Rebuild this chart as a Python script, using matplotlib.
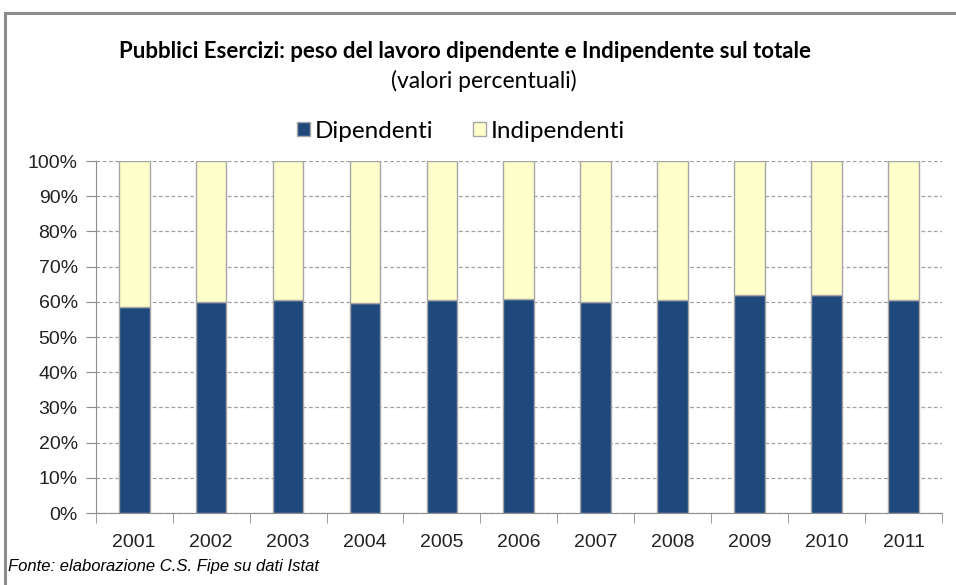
import numpy as np
import matplotlib.pyplot as plt
from matplotlib.patches import Rectangle, Patch
from matplotlib.ticker import PercentFormatter

anni = ["2001", "2002", "2003", "2004", "2005", "2006", "2007", "2008", "2009", "2010", "2011"]
dipendenti = [58.5, 60.0, 60.4, 59.7, 60.5, 60.8, 59.9, 60.4, 61.9, 61.9, 60.4]
indipendenti = [100 - d for d in dipendenti]

blu = "#1F497D"
giallo = "#FFFFCC"
bordo = "#A6A6A6"

W, H = 956, 585
fig = plt.figure(figsize=(W / 100, H / 100), dpi=100)
ax = fig.add_axes([95.7 / W, (H - 513) / H, (942 - 95.7) / W, (513 - 161) / H])

x = np.arange(len(anni))
ax.bar(x, dipendenti, width=0.4, color=blu, edgecolor=bordo, linewidth=1, zorder=3)
ax.bar(x, indipendenti, width=0.4, bottom=dipendenti, color=giallo, edgecolor=bordo,
       linewidth=1, zorder=3)

ax.set_xlim(-0.5, len(anni) - 0.5)
ax.set_ylim(0, 100)
ax.set_yticks(np.arange(0, 101, 10))
ax.yaxis.set_major_formatter(PercentFormatter(decimals=0))
ax.grid(axis="y", color="#A0A0A0", linestyle=(0, (3, 2)), linewidth=0.9, zorder=0)

ax.set_xticks(x)
ax.set_xticklabels(anni)
ax.set_xticks(np.arange(-0.5, len(anni), 1), minor=True)
ax.tick_params(axis="x", which="major", length=0, pad=15)
ax.tick_params(axis="x", which="minor", length=7, color="#8C8C8C", direction="out")
ax.tick_params(axis="y", length=7, color="#8C8C8C", pad=6)
for lab in ax.get_xticklabels() + ax.get_yticklabels():
    lab.set_fontfamily("Liberation Sans")
    lab.set_fontsize(14)
    lab.set_color("#222222")

for s in ["top", "right"]:
    ax.spines[s].set_visible(False)
for s in ["left", "bottom"]:
    ax.spines[s].set_color("#8C8C8C")

# cornice del grafico
fig.patches.append(Rectangle((5 / W, -0.1), 1.1, (H - 13) / H + 0.1, transform=fig.transFigure,
                             fill=False, edgecolor="#8C8C8C", linewidth=2.2))

fig.text(465 / W, 1 - 52 / H, "Pubblici Esercizi: peso del lavoro dipendente e Indipendente sul totale",
         ha="center", va="center", fontsize=16, fontweight="bold", fontfamily="Lato")
fig.text(484 / W, 1 - 81 / H, "(valori percentuali)", ha="center", va="center",
         fontsize=16.5, fontfamily="Lato")

handles = [Patch(facecolor=blu, edgecolor=bordo, label="Dipendenti"),
           Patch(facecolor=giallo, edgecolor=bordo, label="Indipendenti")]
fig.legend(handles=handles, loc="center", bbox_to_anchor=(461 / W, 1 - 131 / H), ncol=2,
           frameon=False, prop={"family": "Lato", "size": 17.5}, handlelength=0.55,
           handleheight=0.55, handletextpad=0.2, columnspacing=1.6)

fig.text(8 / W, 1 - 567 / H, "Fonte: elaborazione C.S. Fipe su dati Istat", ha="left", va="center",
         fontsize=12, fontstyle="italic", fontfamily="Liberation Sans")

fig.savefig("out.png", dpi=100)
